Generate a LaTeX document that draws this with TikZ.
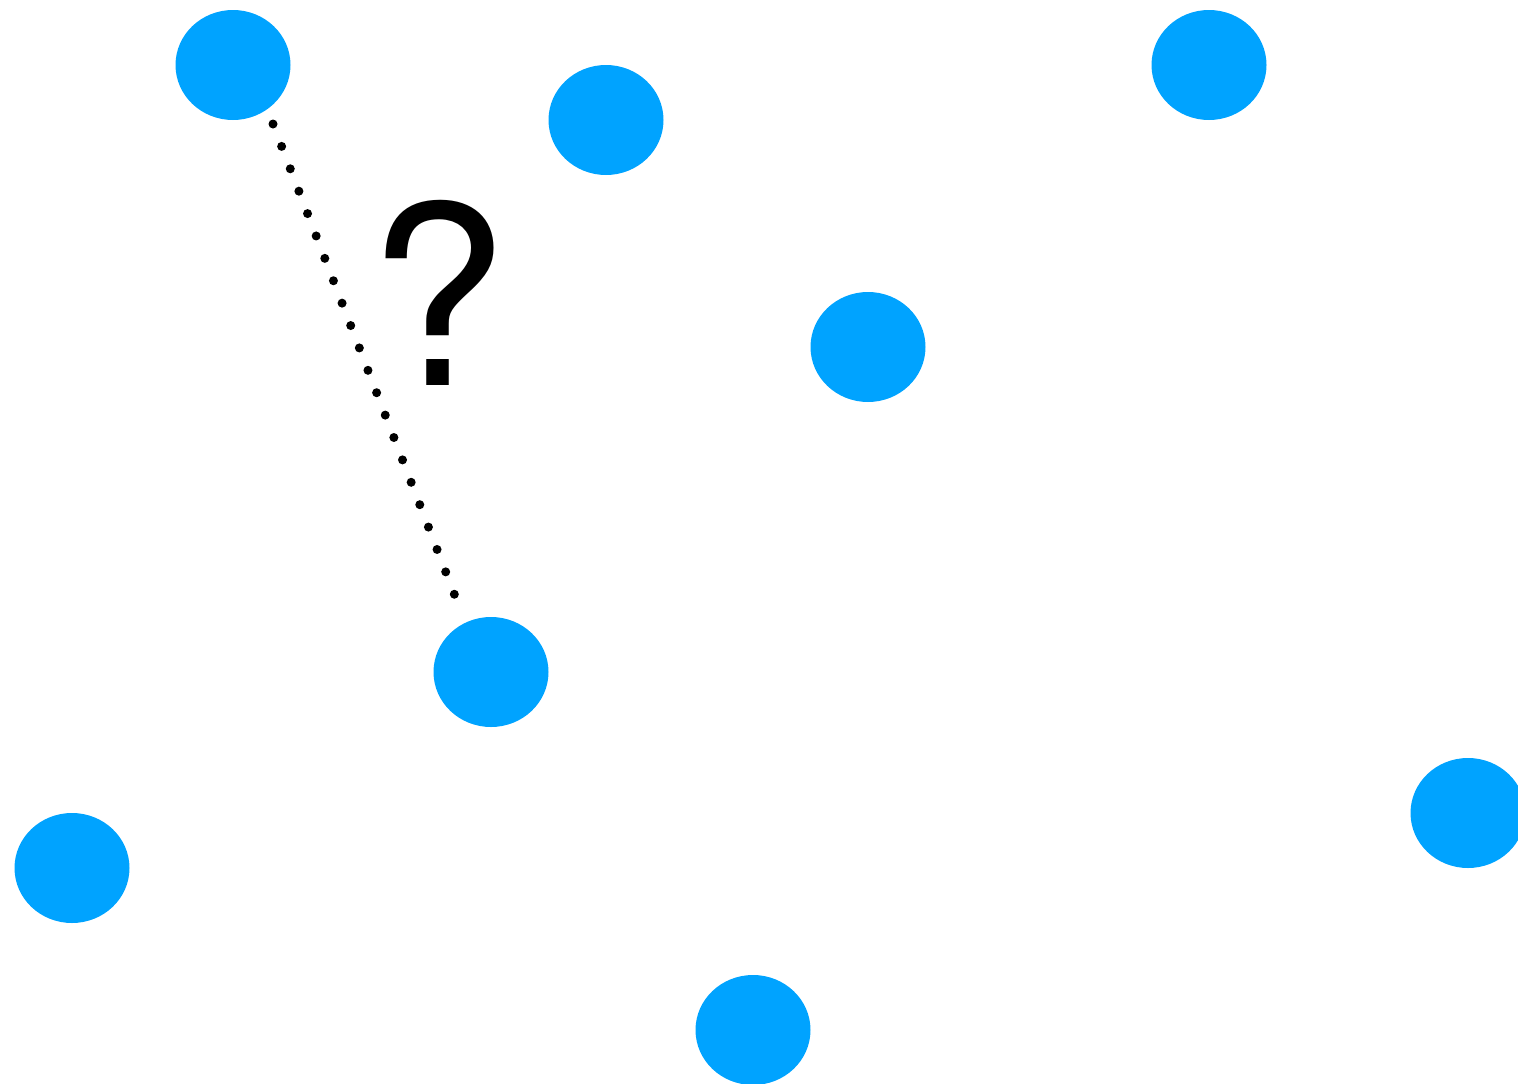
\documentclass[tikz,border=0pt]{standalone}
\usepackage{fontspec}
\setmainfont{TeX Gyre Heros}
\usetikzlibrary{shapes.geometric}
\definecolor{dotblue}{HTML}{00A3FF}
\tikzset{
  pnode/.style={ellipse,fill=dotblue,minimum width=115pt,minimum height=110pt,inner sep=0pt}, % point
  guess/.style={line width=9pt,line cap=round,dash pattern=on 0pt off 24pt},
  qmark/.style={inner sep=0pt,anchor=base,font=\fontsize{250}{250}\selectfont},
}
\begin{document}
\begin{tikzpicture}[x=1pt,y=-1pt]
  \useasboundingbox (0,0) rectangle (1518,1084);
  \begin{scope}
    \clip (0,0) rectangle (1518,1084);
    \node[pnode] (p1) at (233,65) {};
    \node[pnode] (p2) at (606,120) {};
    \node[pnode] (p3) at (1209,65) {};
    \node[pnode] (p4) at (868,347) {};
    \node[pnode] (p5) at (491,672) {};
    \node[pnode] (p6) at (72,868) {};
    \node[pnode] (p7) at (1468,813) {};
    \node[pnode] (p8) at (753,1030) {};
  \end{scope}
  \coordinate (ga) at (273,124);
  \coordinate (gb) at (455,596);
  \draw[guess] (ga) -- (gb);
  \node[qmark] (q) at (438,385) {?};
\end{tikzpicture}
\end{document}
